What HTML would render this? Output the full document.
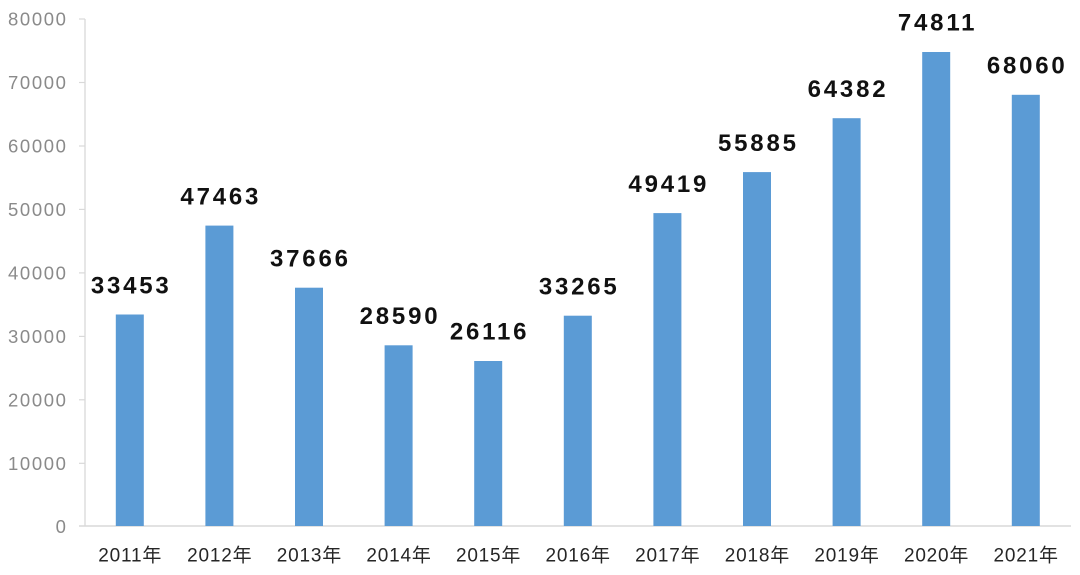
<!DOCTYPE html>
<html>
<head>
<meta charset="utf-8">
<style>
  html, body { margin:0; padding:0; background:#ffffff; }
  svg { display:block; }
  .yl { font-family:"Liberation Sans", sans-serif; font-size:18.5px; fill:#8a8a8a; letter-spacing:1.6px; }
  .xl { font-family:"Liberation Sans", "Noto Sans CJK SC", sans-serif; font-size:19px; fill:#262626; letter-spacing:0.8px; }
  .dl { font-family:"Liberation Sans", sans-serif; font-size:24px; font-weight:bold; fill:#111111; letter-spacing:2.8px; }
</style>
</head>
<body>
<svg width="1080" height="575" viewBox="0 0 1080 575" xmlns="http://www.w3.org/2000/svg">
  <rect width="1080" height="575" fill="#ffffff"/>
  <!-- axes -->
  <line x1="85" y1="19" x2="85" y2="526.5" stroke="#d9d9d9" stroke-width="1.3"/>
  <line x1="79" y1="526" x2="1071" y2="526" stroke="#d9d9d9" stroke-width="1.5"/>
  <g stroke="#d9d9d9" stroke-width="1.2">
    <line x1="79" y1="19" x2="85" y2="19"/>
    <line x1="79" y1="82.5" x2="85" y2="82.5"/>
    <line x1="79" y1="146" x2="85" y2="146"/>
    <line x1="79" y1="209.4" x2="85" y2="209.4"/>
    <line x1="79" y1="272.9" x2="85" y2="272.9"/>
    <line x1="79" y1="336.4" x2="85" y2="336.4"/>
    <line x1="79" y1="399.8" x2="85" y2="399.8"/>
    <line x1="79" y1="463.3" x2="85" y2="463.3"/>
  </g>
  <!-- y labels -->
  <g class="yl" text-anchor="end">
    <text x="67.5" y="25.5">80000</text>
    <text x="67.5" y="89">70000</text>
    <text x="67.5" y="152.5">60000</text>
    <text x="67.5" y="216">50000</text>
    <text x="67.5" y="279.5">40000</text>
    <text x="67.5" y="343">30000</text>
    <text x="67.5" y="406.5">20000</text>
    <text x="67.5" y="470">10000</text>
    <text x="67.5" y="533">0</text>
  </g>
  <!-- bars -->
  <g fill="#5b9bd5">
    <rect x="115.8" y="314.5" width="28" height="211.5"/>
    <rect x="205.4" y="225.6" width="28" height="300.4"/>
    <rect x="295.0" y="287.7" width="28" height="238.3"/>
    <rect x="384.6" y="345.3" width="28" height="180.7"/>
    <rect x="474.2" y="361.0" width="28" height="165.0"/>
    <rect x="563.8" y="315.7" width="28" height="210.3"/>
    <rect x="653.4" y="213.1" width="28" height="312.9"/>
    <rect x="743.0" y="172.1" width="28" height="353.9"/>
    <rect x="832.6" y="118.2" width="28" height="407.8"/>
    <rect x="922.2" y="52.0" width="28" height="474.0"/>
    <rect x="1011.8" y="94.8" width="28" height="431.2"/>
  </g>
  <!-- data labels -->
  <g class="dl" text-anchor="middle">
    <text x="131.2" y="293.3">33453</text>
    <text x="220.8" y="204.3">47463</text>
    <text x="310.4" y="266.4">37666</text>
    <text x="400.0" y="324.0">28590</text>
    <text x="489.6" y="339.7">26116</text>
    <text x="579.2" y="294.4">33265</text>
    <text x="668.8" y="191.8">49419</text>
    <text x="758.4" y="150.8">55885</text>
    <text x="848.0" y="96.9">64382</text>
    <text x="937.6" y="30.5">74811</text>
    <text x="1027.2" y="73.5">68060</text>
  </g>
  <!-- x labels -->
  <g class="xl" text-anchor="middle">
    <text x="130.2" y="561.7">2011年</text>
    <text x="219.8" y="561.7">2012年</text>
    <text x="309.4" y="561.7">2013年</text>
    <text x="399.0" y="561.7">2014年</text>
    <text x="488.6" y="561.7">2015年</text>
    <text x="578.2" y="561.7">2016年</text>
    <text x="667.8" y="561.7">2017年</text>
    <text x="757.4" y="561.7">2018年</text>
    <text x="847.0" y="561.7">2019年</text>
    <text x="936.6" y="561.7">2020年</text>
    <text x="1026.2" y="561.7">2021年</text>
  </g>
</svg>
</body>
</html>
